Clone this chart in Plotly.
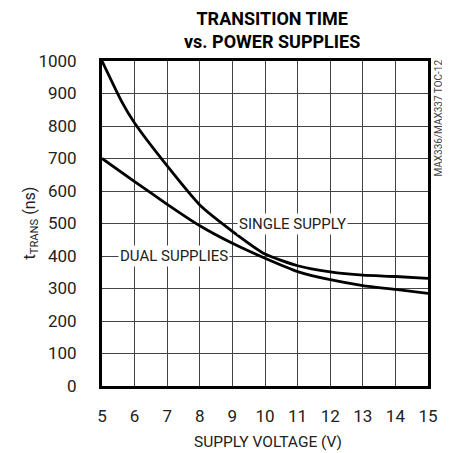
import plotly.graph_objects as go

voltage = [5, 5.6, 6, 7, 8, 9, 10, 11, 12, 13, 14, 15]
single_supply = [1000, 876, 809, 677, 557, 476, 406, 370, 351, 341, 337, 331]
dual_v = [5, 6, 7, 8, 9, 10, 11, 12, 13, 14, 15]
dual_supplies = [700, 629, 559, 493, 439, 393, 352, 327, 309, 297, 285]

x_ticks = list(range(5, 16))
y_ticks = list(range(0, 1001, 100))

FONT = "Roboto, Liberation Sans Narrow, sans-serif"

fig = go.Figure()
fig.add_trace(go.Scatter(x=voltage, y=single_supply, mode="lines",
                         line=dict(color="black", width=2.8, shape="spline", smoothing=0.5),
                         showlegend=False, hoverinfo="skip"))
fig.add_trace(go.Scatter(x=dual_v, y=dual_supplies, mode="lines",
                         line=dict(color="black", width=2.8, shape="spline", smoothing=0.5),
                         showlegend=False, hoverinfo="skip"))

fig.update_layout(
    width=442, height=445,
    margin=dict(l=94, r=22, t=53, b=67),
    paper_bgcolor="white", plot_bgcolor="white",
    font=dict(family=FONT, size=17, color="#222"),
    xaxis=dict(range=[5, 15], tickvals=x_ticks, showgrid=True, gridcolor="#444", gridwidth=1,
               showline=True, linecolor="black", linewidth=3, mirror=True, zeroline=False,
               ticks="", ticklabelstandoff=13, tickfont=dict(size=17, family=FONT, color="#222")),
    yaxis=dict(range=[0, 1000], tickvals=y_ticks, showgrid=True, gridcolor="#444", gridwidth=1,
               showline=True, linecolor="black", linewidth=3, mirror=True, zeroline=False,
               ticks="", ticklabelstandoff=19, tickfont=dict(size=17, family=FONT, color="#222")),
    annotations=[
        dict(text="<b>TRANSITION TIME<br>vs. POWER SUPPLIES</b>", x=0.52, y=1.0, xref="paper", yref="paper",
             xanchor="center", yanchor="middle", yshift=31, showarrow=False,
             font=dict(size=18, family=FONT, color="black")),
        dict(text="SUPPLY VOLTAGE (V)", x=0.51, y=0, xref="paper", yref="paper",
             xanchor="center", yanchor="middle", yshift=-56, showarrow=False,
             font=dict(size=15.5, family=FONT, color="#222")),
        dict(text="t<sub>TRANS</sub> (ns)", x=0, y=0.5, xref="paper", yref="paper", textangle=-90,
             xanchor="center", yanchor="middle", xshift=-72, yshift=0, showarrow=False,
             font=dict(size=16, family=FONT, color="#222")),
        dict(text="MAX336/MAX337 TOC-12", x=1, y=1, xref="paper", yref="paper", textangle=-90,
             xanchor="center", yanchor="top", xshift=10, yshift=3, showarrow=False,
             font=dict(size=10, family=FONT, color="#444")),
        dict(text="SINGLE SUPPLY", x=10.83, y=500, xref="x", yref="y", showarrow=False,
             bgcolor="white", borderpad=1, xanchor="center", yanchor="middle",
             font=dict(size=15, family=FONT, color="#222")),
        dict(text="DUAL SUPPLIES", x=7.2, y=400, xref="x", yref="y", showarrow=False,
             bgcolor="white", borderpad=1, xanchor="center", yanchor="middle",
             font=dict(size=15, family=FONT, color="#222")),
    ],
)

fig.write_html("out.html")
